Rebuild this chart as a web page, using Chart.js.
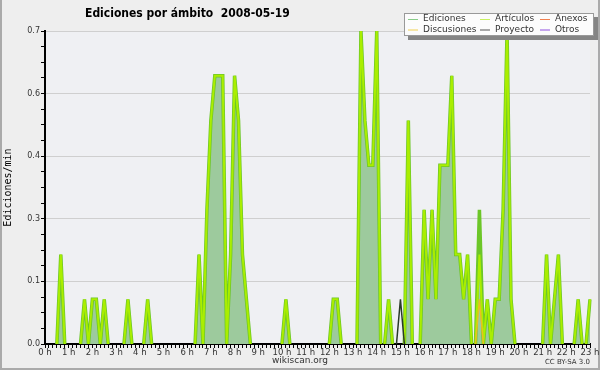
<!DOCTYPE html>
<html>
<head>
<meta charset="utf-8">
<title>Ediciones por ámbito 2008-05-19</title>
<script src="https://cdn.jsdelivr.net/npm/chart.js@4.4.0/dist/chart.umd.min.js"></script>
<style>
  html, body { margin: 0; padding: 0; background: #eeeeee; }
</style>
</head>
<body>
<canvas id="chart" width="600" height="370"></canvas>
<script>
// one value per 10 minute bin, 00:00 .. 23:00 (ediciones/min)
const horas = Array.from({ length: 139 }, (_, i) =>
  String(Math.floor(i / 6)).padStart(2, "0") + ":" + (i % 6) + "0");

const ediciones = [
  0, 0, 0, 0, 0.2, 0,        // 0 h
  0, 0, 0, 0, 0.1, 0,        // 1 h
  0.1, 0.1, 0, 0.1, 0, 0,    // 2 h
  0, 0, 0, 0.1, 0, 0,        // 3 h
  0, 0, 0.1, 0, 0, 0,        // 4 h
  0, 0, 0, 0, 0, 0,          // 5 h
  0, 0, 0, 0.2, 0, 0.3,      // 6 h
  0.5, 0.6, 0.6, 0.6, 0, 0.2,  // 7 h
  0.6, 0.5, 0.2, 0.1, 0, 0,  // 8 h
  0, 0, 0, 0, 0, 0,          // 9 h
  0, 0.1, 0, 0, 0, 0,        // 10 h
  0, 0, 0, 0, 0, 0,          // 11 h
  0, 0.1, 0.1, 0, 0, 0,      // 12 h
  0, 0, 0.7, 0.5, 0.4, 0.4,  // 13 h
  0.7, 0, 0, 0.1, 0, 0,      // 14 h
  0, 0, 0.5, 0, 0, 0,        // 15 h
  0.3, 0.1, 0.3, 0.1, 0.4, 0.4,  // 16 h
  0.4, 0.6, 0.2, 0.2, 0.1, 0.2,  // 17 h
  0, 0, 0.3, 0, 0.1, 0,      // 18 h
  0.1, 0.1, 0.3, 0.7, 0.1, 0,  // 19 h
  0, 0, 0, 0, 0, 0,          // 20 h
  0, 0.2, 0, 0.1, 0.2, 0,    // 21 h
  0, 0, 0, 0.1, 0, 0,        // 22 h
  0.1                        // 23 h
];

const articulos = [
  0, 0, 0, 0, 0.2, 0,
  0, 0, 0, 0, 0.1, 0,
  0.1, 0.1, 0, 0.1, 0, 0,
  0, 0, 0, 0.1, 0, 0,
  0, 0, 0.1, 0, 0, 0,
  0, 0, 0, 0, 0, 0,
  0, 0, 0, 0.2, 0, 0.3,
  0.5, 0.6, 0.6, 0.6, 0, 0.2,
  0.6, 0.5, 0.2, 0.1, 0, 0,
  0, 0, 0, 0, 0, 0,
  0, 0.1, 0, 0, 0, 0,
  0, 0, 0, 0, 0, 0,
  0, 0.1, 0.1, 0, 0, 0,
  0, 0, 0.7, 0.5, 0.4, 0.4,
  0.7, 0, 0, 0.1, 0, 0,
  0, 0, 0.5, 0, 0, 0,
  0.3, 0.1, 0.3, 0.1, 0.4, 0.4,
  0.4, 0.6, 0.2, 0.2, 0.1, 0.2,
  0, 0, 0.2, 0, 0.1, 0,
  0.1, 0.1, 0.3, 0.7, 0.1, 0,
  0, 0, 0, 0, 0, 0,
  0, 0.2, 0, 0.1, 0.2, 0,
  0, 0, 0, 0.1, 0, 0,
  0.1
];

const discusiones = [
  0, 0, 0, 0, 0, 0, 0, 0, 0, 0, 0, 0,
  0, 0, 0, 0, 0, 0, 0, 0, 0, 0, 0, 0,
  0, 0, 0, 0, 0, 0, 0, 0, 0, 0, 0, 0,
  0, 0, 0, 0, 0, 0, 0, 0, 0, 0, 0, 0,
  0, 0, 0, 0, 0, 0, 0, 0, 0, 0, 0, 0,
  0, 0, 0, 0, 0, 0, 0, 0, 0, 0, 0, 0,
  0, 0, 0, 0, 0, 0, 0, 0, 0, 0, 0, 0,
  0, 0, 0, 0, 0, 0, 0, 0, 0, 0, 0, 0,
  0, 0, 0, 0, 0, 0, 0, 0, 0, 0, 0, 0,
  0, 0, 0.1, 0, 0, 0, 0, 0, 0, 0, 0, 0,
  0, 0, 0, 0, 0, 0, 0, 0, 0, 0, 0, 0,
  0, 0, 0, 0, 0, 0, 0
];

const proyecto = [
  0, 0, 0, 0, 0, 0, 0, 0, 0, 0, 0, 0,
  0, 0, 0, 0, 0, 0, 0, 0, 0, 0, 0, 0,
  0, 0, 0, 0, 0, 0, 0, 0, 0, 0, 0, 0,
  0, 0, 0, 0, 0, 0, 0, 0, 0, 0, 0, 0,
  0, 0, 0, 0, 0, 0, 0, 0, 0, 0, 0, 0,
  0, 0, 0, 0, 0, 0, 0, 0, 0, 0, 0, 0,
  0, 0, 0, 0, 0, 0, 0, 0, 0, 0, 0, 0,
  0, 0, 0, 0, 0, 0, 0.1, 0, 0, 0, 0, 0,
  0, 0, 0, 0, 0, 0, 0, 0, 0, 0, 0, 0,
  0, 0, 0, 0, 0, 0, 0, 0, 0, 0, 0, 0,
  0, 0, 0, 0, 0, 0, 0, 0, 0, 0, 0, 0,
  0, 0, 0, 0, 0, 0, 0
];

const anexos = [
  0, 0, 0, 0, 0, 0, 0, 0, 0, 0, 0, 0,
  0, 0, 0, 0, 0, 0, 0, 0, 0, 0, 0, 0,
  0, 0, 0, 0, 0, 0, 0, 0, 0, 0, 0, 0,
  0, 0, 0, 0, 0, 0, 0, 0, 0, 0, 0, 0,
  0, 0, 0, 0, 0, 0, 0, 0, 0, 0, 0, 0,
  0, 0, 0, 0, 0, 0, 0, 0, 0, 0, 0, 0,
  0, 0, 0, 0, 0, 0, 0, 0, 0, 0, 0, 0,
  0, 0, 0, 0, 0, 0, 0, 0, 0, 0, 0, 0,
  0, 0, 0, 0, 0, 0, 0, 0, 0, 0, 0, 0,
  0, 0, 0, 0, 0, 0, 0, 0, 0, 0, 0, 0,
  0, 0, 0, 0, 0, 0, 0, 0, 0, 0, 0, 0,
  0, 0, 0, 0, 0, 0, 0
];

const otros = [
  0, 0, 0, 0, 0, 0, 0, 0, 0, 0, 0, 0,
  0, 0, 0, 0, 0, 0, 0, 0, 0, 0, 0, 0,
  0, 0, 0, 0, 0, 0, 0, 0, 0, 0, 0, 0,
  0, 0, 0, 0, 0, 0, 0, 0, 0, 0, 0, 0,
  0, 0, 0, 0, 0, 0, 0, 0, 0, 0, 0, 0,
  0, 0, 0, 0, 0, 0, 0, 0, 0, 0, 0, 0,
  0, 0, 0, 0, 0, 0, 0, 0, 0, 0, 0, 0,
  0, 0, 0, 0, 0, 0, 0, 0, 0, 0, 0, 0,
  0, 0, 0, 0, 0, 0, 0, 0, 0, 0, 0, 0,
  0, 0, 0, 0, 0, 0, 0, 0, 0, 0, 0, 0,
  0, 0, 0, 0, 0, 0, 0, 0, 0, 0, 0, 0,
  0, 0, 0, 0, 0, 0, 0
];

const yTicks = [0, 0.14, 0.28, 0.42, 0.56, 0.7];

// title, boxed legend, footer texts and backgrounds
const decor = {
  id: "decor",
  beforeDraw(chart) {
    const { ctx, chartArea: a } = chart;
    ctx.save();
    ctx.fillStyle = "#eeeeee";
    ctx.fillRect(0, 0, chart.width, chart.height);
    ctx.fillStyle = "#eff0f3";
    ctx.fillRect(a.left, a.top, a.right - a.left, a.bottom - a.top);
    ctx.strokeStyle = "#aaaaaa";
    ctx.lineWidth = 2;
    ctx.beginPath();
    ctx.moveTo(1, 0);
    ctx.lineTo(1, 369);
    ctx.lineTo(599, 369);
    ctx.lineTo(599, 0);
    ctx.stroke();
    ctx.restore();
  },
  afterDraw(chart) {
    const ctx = chart.ctx;
    ctx.save();
    ctx.fillStyle = "#000";
    ctx.textBaseline = "middle";
    ctx.font = "bold 12px 'DejaVu Sans Condensed', 'Liberation Sans Narrow', sans-serif";
    ctx.fillText("Ediciones por ámbito  2008-05-19", 85, 14);

    // legend box with shadow
    ctx.fillStyle = "#858585";
    ctx.fillRect(408, 17, 190, 23);
    ctx.fillStyle = "#fcfcfc";
    ctx.fillRect(404, 13, 190, 23);
    ctx.strokeStyle = "#999";
    ctx.lineWidth = 1;
    ctx.strokeRect(404.5, 13.5, 189, 22);

    const colX = [408, 480, 540];
    const rowY = [19, 29.5];
    ctx.font = "9px 'DejaVu Sans'";
    chart.data.datasets.forEach((ds, i) => {
      const x = colX[Math.floor(i / 2)];
      const y = rowY[i % 2];
      ctx.strokeStyle = ds.legendColor;
      ctx.lineWidth = 1;
      ctx.beginPath();
      ctx.moveTo(x, y + 0.5);
      ctx.lineTo(x + 10, y + 0.5);
      ctx.stroke();
      ctx.fillStyle = "#333";
      ctx.fillText(ds.label, x + 15, y);
    });

    ctx.fillStyle = "#333";
    ctx.font = "9px 'DejaVu Sans'";
    ctx.textAlign = "center";
    ctx.fillText("wikiscan.org", 300, 361);
    ctx.font = "7px 'DejaVu Sans'";
    ctx.textAlign = "right";
    ctx.fillText("CC BY-SA 3.0", 590, 362);
    ctx.restore();
  }
};

// segments lying flat on zero are not stroked (the axis shows there)
const lineBase = {
  pointRadius: 0, tension: 0, fill: false, borderWidth: 1.5,
  segment: {
    borderColor: (s) => (s.p0.parsed.y === 0 && s.p1.parsed.y === 0 ? "rgba(0,0,0,0)" : undefined)
  }
};

new Chart(document.getElementById("chart"), {
  type: "line",
  data: {
    labels: horas,
    datasets: [
      { ...lineBase, label: "Ediciones", data: ediciones, order: 2, fill: "origin",
        borderColor: "#6cc628", legendColor: "#88cc88", borderWidth: 3.5,
        backgroundColor: "#9dca9d" },
      { ...lineBase, label: "Discusiones", data: discusiones, order: 0,
        borderColor: "#e8c020", legendColor: "#f0d050" },
      { ...lineBase, label: "Artículos", data: articulos, order: 1,
        borderColor: "#aaee00", legendColor: "#c8f060", borderWidth: 2 },
      { ...lineBase, label: "Proyecto", data: proyecto, order: 0,
        borderColor: "#2a3a2a", legendColor: "#555555" },
      { ...lineBase, label: "Anexos", data: anexos, order: 3,
        borderColor: "#f08050", legendColor: "#f08050" },
      { ...lineBase, label: "Otros", data: otros, order: 3,
        borderColor: "#9050e0", legendColor: "#9050e0" }
    ]
  },
  options: {
    responsive: false,
    animation: false,
    layout: { padding: { left: 2, top: 31, right: 10, bottom: 2 } },
    plugins: { legend: { display: false }, tooltip: { enabled: false } },
    scales: {
      x: {
        offset: false,
        z: 1,
        grid: { drawOnChartArea: false, offset: false, tickLength: 4, tickColor: "#000" },
        border: { color: "#000", width: 2 },
        ticks: {
          autoSkip: false, maxRotation: 0, padding: 0, color: "#333",
          font: { family: "DejaVu Sans", size: 8.5 },
          callback: (v, i) => (i % 6 === 0 ? i / 6 + " h" : "")
        },
        afterFit: (s) => { s.height = 24; }
      },
      y: {
        min: 0,
        max: 0.7,
        grid: {
          tickLength: 4,
          tickColor: "#000",
          color: (c) => (c.tick && yTicks.some((t) => Math.abs(t - c.tick.value) < 1e-6) ? "#cfcfcf" : "rgba(0,0,0,0)")
        },
        border: { color: "#000", width: 2 },
        ticks: {
          stepSize: 0.035, maxTicksLimit: 40, padding: 1, color: "#333",
          font: { family: "DejaVu Sans", size: 8 },
          callback: (v) => (yTicks.some((t) => Math.abs(t - v) < 1e-6) ? v.toFixed(1) : "")
        },
        title: {
          display: true, text: "Ediciones/min", color: "#000",
          font: { family: "DejaVu Sans Mono", size: 10 }, padding: 0
        },
        afterFit: (s) => { s.width = 43; }
      }
    }
  },
  plugins: [decor]
});
</script>
</body>
</html>
